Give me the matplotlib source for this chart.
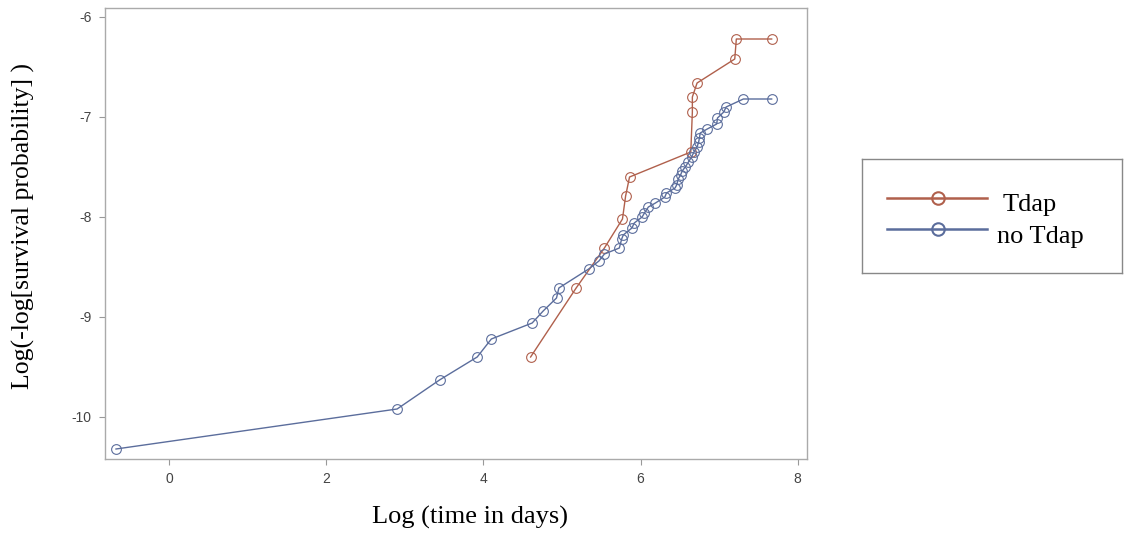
import matplotlib
matplotlib.use("Agg")
import matplotlib.pyplot as plt

plt.rcParams["axes.unicode_minus"] = False

# log(time in days) / log(-log survival)
tdap_x = [4.60, 5.18, 5.54, 5.77, 5.81, 5.86, 6.64, 6.66, 6.66, 6.72, 7.20, 7.22, 7.67]
tdap_y = [-9.40, -8.71, -8.31, -8.02, -7.79, -7.60, -7.35, -6.95, -6.80, -6.66, -6.42, -6.22, -6.22]

notdap_x = [-0.68, 2.90, 3.44, 3.92, 4.10, 4.62, 4.76, 4.93, 4.96, 5.34, 5.47, 5.54,
            5.73, 5.76, 5.78, 5.89, 5.92, 6.02, 6.05, 6.10, 6.19, 6.31, 6.33, 6.44,
            6.46, 6.48, 6.51, 6.53, 6.57, 6.61, 6.65, 6.68, 6.72, 6.74, 6.75, 6.76,
            6.85, 6.97, 6.98, 7.06, 7.09, 7.31, 7.67]
notdap_y = [-10.32, -9.92, -9.63, -9.40, -9.22, -9.06, -8.94, -8.81, -8.71, -8.52, -8.44, -8.37,
            -8.31, -8.22, -8.18, -8.11, -8.06, -8.00, -7.96, -7.90, -7.86, -7.80, -7.76, -7.71,
            -7.68, -7.62, -7.58, -7.54, -7.50, -7.45, -7.40, -7.35, -7.30, -7.25, -7.21, -7.16,
            -7.12, -7.07, -7.01, -6.95, -6.90, -6.82, -6.82]

x_ticks = [0, 2, 4, 6, 8]
y_ticks = [-10, -9, -8, -7, -6]
series_names = ["Tdap", "no Tdap"]

red = "#b0604c"
blue = "#5b6d9c"
serif = "Liberation Serif"

fig = plt.figure(figsize=(11.3, 5.35), dpi=100)
ax = fig.add_axes([105 / 1130, 76 / 535, 702 / 1130, 451 / 535])

ax.plot(tdap_x, tdap_y, color=red, linewidth=1.0, marker="o", markersize=7,
        markerfacecolor="none", markeredgecolor=red, markeredgewidth=0.8)
ax.plot(notdap_x, notdap_y, color=blue, linewidth=1.0, marker="o", markersize=7,
        markerfacecolor="none", markeredgecolor=blue, markeredgewidth=0.8)

ax.set_xlim(-0.82, 8.12)
ax.set_ylim(-10.42, -5.91)
ax.set_xticks(x_ticks)
ax.set_yticks(y_ticks)
ax.tick_params(labelsize=10, labelcolor="#444444", color="#999999",
               length=4.5, width=0.8, pad=5)
for lab in ax.get_xticklabels() + ax.get_yticklabels():
    lab.set_family("Liberation Sans")
for sp in ax.spines.values():
    sp.set_color("#aaaaaa")
    sp.set_linewidth(1.0)

ax.set_xlabel("Log (time in days)", fontsize=19, family=serif)
ax.xaxis.set_label_coords(0.52, -0.105)
ax.set_ylabel("Log(-log[survival probability] )", fontsize=18.5, family=serif)
ax.yaxis.set_label_coords(-0.10, 0.517)

# legend box drawn by hand, outside the plot on the right
lax = fig.add_axes([862 / 1130, 262 / 535, 260 / 1130, 114 / 535])
lax.set_xlim(0, 260)
lax.set_ylim(114, 0)
lax.set_xticks([])
lax.set_yticks([])
for sp in lax.spines.values():
    sp.set_color("#888888")
    sp.set_linewidth(1.0)

for name, col, ly, tx in zip(series_names, [red, blue], [39, 70], [141, 135]):
    lax.plot([25, 125], [ly, ly], color=col, linewidth=1.8)
    lax.plot([76], [ly], marker="o", markersize=9, markerfacecolor="none",
             markeredgecolor=col, markeredgewidth=1.5)
    lax.text(tx, ly + 13.5, name, fontsize=19, family=serif, va="baseline", ha="left")

fig.savefig("out.png", dpi=100)
